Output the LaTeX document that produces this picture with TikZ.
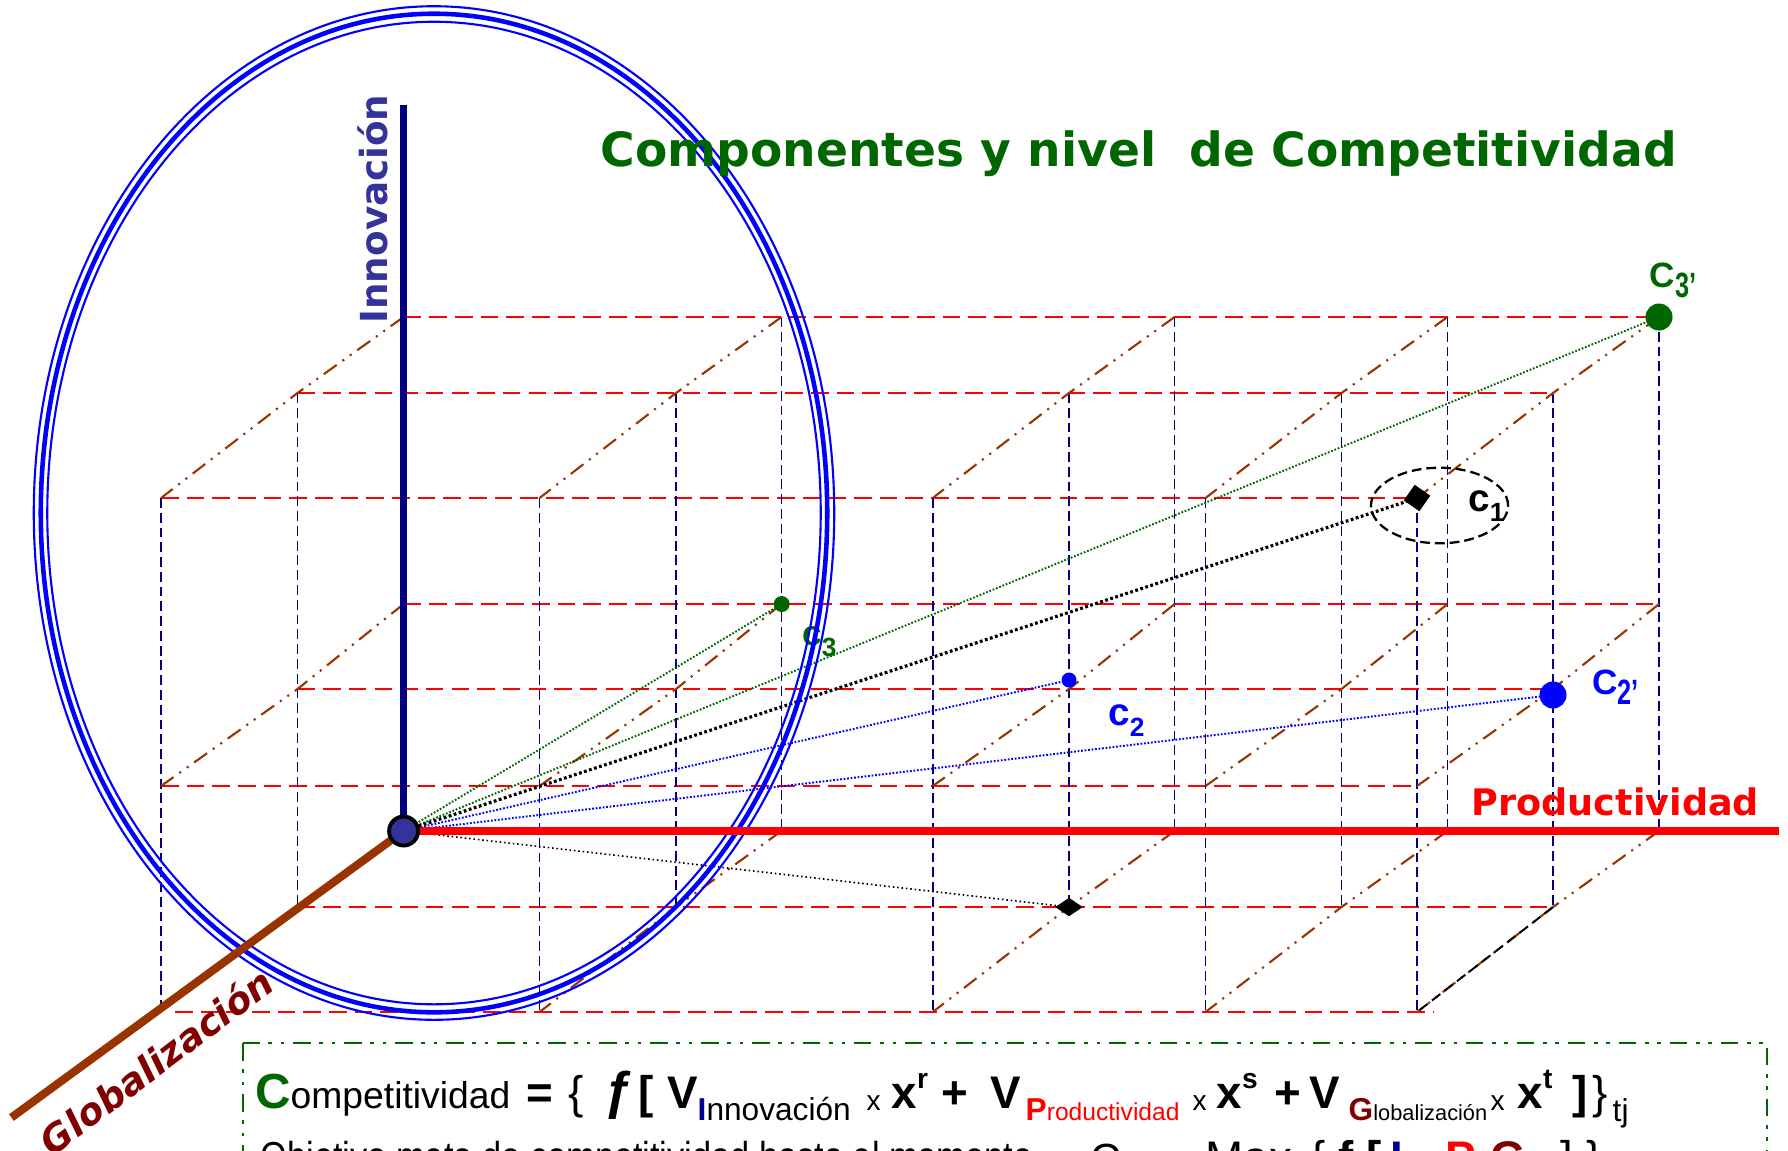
\documentclass[tikz,border=0pt]{standalone}
\usepackage{fontspec}
\setmainfont{Liberation Sans}
\newfontfamily\dejavu{DejaVu Sans}
\usetikzlibrary{shapes.geometric}
\definecolor{cgreen}{HTML}{006600}
\definecolor{cnavy}{HTML}{000080}
\definecolor{cred}{HTML}{FF0000}
\definecolor{cbrown}{HTML}{993300}
\definecolor{cmaroon}{HTML}{800000}
\definecolor{cslate}{HTML}{333399}
\definecolor{cblue}{HTML}{0000FF}
\definecolor{cdblue}{HTML}{000099}
\tikzset{
 reddash/.style={cred, line width=0.6pt, dash pattern=on 5pt off 2.3pt},
 bluedash/.style={cnavy, line width=0.5pt, dash pattern=on 2.8pt off 1.4pt},
 browndd/.style={cbrown, line width=0.6pt, dash pattern=on 4.5pt off 2pt on 0.6pt off 2pt on 0.6pt off 2pt},
 blackdash/.style={black, line width=0.55pt, dash pattern=on 3pt off 1.5pt},
 gdot/.style={cgreen, line width=0.55pt, dash pattern=on 0.5pt off 0.5pt},
 bdot/.style={cblue, line width=0.55pt, dash pattern=on 0.5pt off 0.5pt},
 kdotthick/.style={black, line width=0.9pt, dash pattern=on 0.8pt off 0.7pt},
 kdot/.style={black, line width=0.45pt, dash pattern=on 0.45pt off 0.8pt},
 gbox/.style={cgreen, line width=0.6pt, dash pattern=on 5pt off 2.5pt on 1pt off 2.5pt on 1pt off 2.5pt},
 ring/.style={cblue},
 axisline/.style={line width=2.2pt},
 dotpt/.style={circle, inner sep=0pt},
 lbl/.style={anchor=base west, inner sep=0pt, font=\fontsize{11}{12}\selectfont\bfseries},
 fbig/.style={anchor=base west, inner sep=0pt, font=\fontsize{13}{15}\selectfont\bfseries},
 fsub/.style={anchor=base west, inner sep=0pt, font=\fontsize{9}{10}\selectfont},
 fline/.style={anchor=base west, inner sep=0pt, font=\fontsize{13}{15}\selectfont},
}
\begin{document}
\begin{tikzpicture}[x=0.01cm,y=-0.01cm]
\useasboundingbox (0,0) rectangle (1788,1150);
\clip (0,0) rectangle (1788,1150);
\fill[white] (0,0) rectangle (1788,1150);

% ---------- grid coordinates ----------
\foreach \i/\x in {0/403.6,1/781.5,2/1174.6,3/1447.5,4/1659}{
  \coordinate (Bt\i) at (\x,317); \coordinate (Bm\i) at (\x,604); \coordinate (Bb\i) at (\x,831);}
\foreach \i/\x in {0/297.5,1/676,2/1069,3/1341.5,4/1553}{
  \coordinate (Mt\i) at (\x,393); \coordinate (Mm\i) at (\x,689); \coordinate (Mb\i) at (\x,907);}
\foreach \i/\x in {0/161,1/539.5,2/932.7,3/1205.5,4/1417}{
  \coordinate (Ft\i) at (\x,498); \coordinate (Fm\i) at (\x,786); \coordinate (Fb\i) at (\x,1012);}
\coordinate (FbL) at (175,1012);
\coordinate (FbR) at (1433,1012);

% ---------- red dashed horizontals ----------
\draw[reddash] (Bt0) -- (Bt4);
\draw[reddash] (Bm0) -- (Bm4);
\draw[reddash] (Mt0) -- (Mt4);
\draw[reddash] (Mm0) -- (Mm4);
\draw[reddash] (Mb0) -- (Mb4);
\draw[reddash] (Ft0) -- (Ft4);
\draw[reddash] (Fm0) -- (Fm4);
\draw[reddash] (FbL) -- (FbR);

% ---------- blue dashed verticals ----------
\foreach \i in {1,...,4}{\draw[bluedash] (Bt\i) -- (Bb\i);}
\foreach \i in {0,...,4}{\draw[bluedash] (Mt\i) -- (Mb\i);}
\foreach \i in {0,...,4}{\draw[bluedash] (Ft\i) -- (Fb\i);}

% ---------- brown diagonals ----------
\foreach \i in {0,...,4}{
  \draw[browndd] (Bt\i) -- (Mt\i) -- (Ft\i);
  \draw[browndd] (Bm\i) -- (Mm\i) -- (Fm\i);}
\foreach \i in {1,...,3}{\draw[browndd] (Bb\i) -- (Mb\i) -- (Fb\i);}
\draw[browndd] (Bb4) -- (Mb4);
\draw[browndd] (Mb4) -- (Fb4);
\draw[blackdash] (Mb4) -- (Fb4);

% ---------- point positions ----------
\coordinate (O) at (403.6,831);
\coordinate (pc3) at (781.7,604);
\coordinate (pC3) at (1659,317);
\coordinate (pc1) at (1417,498);
\coordinate (pc2) at (1069,680);
\coordinate (pC2) at (1553,695);
\coordinate (pd2) at (1069,907);

% ---------- connectors from origin ----------
\draw[gdot] (O) -- (pc3);
\draw[gdot] (O) -- (pC3);
\draw[kdotthick] (O) -- (pc1);
\draw[bdot] (O) -- (pc2);
\draw[bdot] (O) -- (pC2);
\draw[kdot] (O) -- (pd2);

% label c3 (under the ellipse)
\node[lbl, text=cgreen, font=\fontsize{10}{12}\selectfont\bfseries] (lc3) at (801.7,645) {c\raisebox{-3.3pt}{\fontsize{7.5}{8}\selectfont 3}};

% ---------- big triple ellipse ----------
\draw[ring, line width=0.6pt] (434,513) ellipse [x radius=4.00cm, y radius=5.065cm];
\draw[ring, line width=1.3pt] (434,513) ellipse [x radius=3.93cm, y radius=4.99cm];
\draw[ring, line width=0.6pt] (434,513) ellipse [x radius=3.865cm, y radius=4.91cm];

% ---------- axes ----------
\coordinate (Itop) at (403.6,105);
\coordinate (Pend) at (1779,831);
\coordinate (Gend) at (11.4,1117.5);
\draw[axisline, cnavy] (O) -- (Itop);
\draw[axisline, cred] (O) -- (Pend);
\draw[axisline, cbrown, line width=2.3pt] (O) -- (Gend);

% ---------- points ----------
\node[dotpt, fill=cgreen, minimum size=0.16cm] (c3) at (pc3) {};
\node[dotpt, fill=cgreen, minimum size=0.27cm] (C3p) at (pC3) {};
\node[dotpt, fill=cblue, minimum size=0.15cm] (c2) at (pc2) {};
\node[dotpt, fill=cblue, minimum size=0.27cm] (C2p) at (pC2) {};
\node[fill=black, inner sep=0pt, minimum size=0.19cm, rotate=55] (c1) at (pc1) {};
\node[diamond, fill=black, inner sep=0pt, minimum width=0.28cm, minimum height=0.19cm] (d2) at (pd2) {};
\node[ellipse, draw=black, line width=0.65pt, dash pattern=on 2.8pt off 1.4pt, minimum width=1.37cm, minimum height=0.755cm, inner sep=0pt] (c1ring) at (1439.5,505.5) {};
\node[dotpt, fill=cslate, draw=black, line width=1.1pt, minimum size=0.29cm] (orig) at (O) {};

% ---------- point labels ----------
\node[lbl, text=black] (lc1) at (1467.7,511.7) {c\raisebox{-2.8pt}{\fontsize{7.5}{8}\selectfont 1}};
\node[lbl, text=cblue] (lc2) at (1107.6,725.5) {c\raisebox{-3pt}{\fontsize{7.5}{8}\selectfont 2}};
\node[lbl, text=cgreen, font=\fontsize{10}{12}\selectfont\bfseries] (lC3p) at (1649,287) {C\raisebox{-3.1pt}{\scalebox{0.72}[1]{3’}}};
\node[lbl, text=cblue, font=\fontsize{10}{12}\selectfont\bfseries] (lC2p) at (1591.7,694) {C\raisebox{-3.1pt}{\scalebox{0.72}[1]{2’}}};

% ---------- titles and axis labels ----------
\node[anchor=base west, inner sep=0pt, text=cgreen, font=\dejavu\bfseries\fontsize{13.4}{15}\selectfont] (title) at (600,166) {Componentes y nivel\hspace{0.35em} de Competitividad};
\node[rotate=90, anchor=base, inner sep=0pt, text=cslate, font=\dejavu\bfseries\fontsize{10.6}{12}\selectfont] (innov) at (387.5,209) {Innovación};
\node[anchor=base west, inner sep=0pt, text=cred, font=\dejavu\bfseries\fontsize{10.4}{12}\selectfont] (prod) at (1471,815) {Productividad};
\node[rotate=37, inner sep=0pt, text=cmaroon, font=\dejavu\bfseries\itshape\fontsize{10.6}{12}\selectfont] (glob) at (156,1061) {Globalización};

% ---------- formula box ----------
\coordinate (boxA) at (243,1043);
\coordinate (boxB) at (1767,1210);
\draw[gbox] (boxA) rectangle (boxB);

\node[fbig, text=cgreen, font=\fontsize{14}{15}\selectfont\bfseries] (f1) at (255,1108) {C};
\node[fline, font=\fontsize{10.6}{12}\selectfont] (f2) at (290,1108) {ompetitividad};
\node[fbig] (f3) at (526,1108) {=};
\node[fbig, font=\fontsize{13}{15}\selectfont] (f4) at (568,1108) {\{};
\node[fbig, font=\fontsize{15}{16}\selectfont\bfseries] (f5) at (604,1108) {ƒ};
\node[fbig] (f6) at (638,1108) {[};
\node[fbig] (f7) at (667,1108) {V};
\node[fsub] (f8) at (697,1120) {{\color{cdblue}\bfseries I}nnovación};
\node[fsub, font=\fontsize{8}{9}\selectfont] (f9) at (866,1110) {x};
\node[fbig] (f10) at (891,1108) {x\raisebox{5.5pt}{\fontsize{8}{9}\selectfont r}};
\node[fbig] (f11) at (941,1108) {+};
\node[fbig] (f12) at (990,1108) {V};
\node[fsub, text=cred] (f13) at (1025,1120) {{\bfseries P}{\fontsize{7}{8}\selectfont roductividad}};
\node[fsub, font=\fontsize{8}{9}\selectfont] (f14) at (1192,1110) {x};
\node[fbig] (f15) at (1216,1108) {x\raisebox{5.5pt}{\fontsize{8}{9}\selectfont s}};
\node[fbig] (f16) at (1274,1108) {+};
\node[fbig] (f17) at (1309,1108) {V};
\node[fsub] (f18) at (1348,1120) {{\color{cmaroon}\bfseries G}{\fontsize{6.2}{7}\selectfont lobalización}};
\node[fsub, font=\fontsize{8}{9}\selectfont] (f19) at (1490,1110) {x};
\node[fbig] (f20) at (1517,1108) {x\raisebox{5.5pt}{\fontsize{8}{9}\selectfont t}};
\node[fbig] (f21) at (1572,1108) {]};
\node[fbig, font=\fontsize{13}{15}\selectfont] (f22) at (1592,1108) {\}};
\node[fsub] (f23) at (1612,1121) {tj};

% second (clipped) line
\node[fline, font=\fontsize{11.5}{14}\selectfont] (g1) at (260,1170) {\scalebox{0.85}[1]{Objetivo meta de competitividad hasta el momento}};
\node[fline, font=\fontsize{12}{14}\selectfont] (g2) at (1090,1173) {C};
\node[fline] (g3) at (1205,1173) {Max};
\node[fline] (g4) at (1310,1173) {\{ \textbf{f [}};
\node[fline, text=cdblue, font=\fontsize{13}{15}\selectfont\bfseries] (g5) at (1390,1173) {I ,};
\node[fline, text=cred, font=\fontsize{13}{15}\selectfont\bfseries] (g6) at (1445,1173) {P ,};
\node[fline, text=cmaroon, font=\fontsize{13}{15}\selectfont\bfseries] (g7) at (1490,1173) {G};
\node[fline] (g8) at (1560,1173) {] \}};
\end{tikzpicture}
\end{document}
